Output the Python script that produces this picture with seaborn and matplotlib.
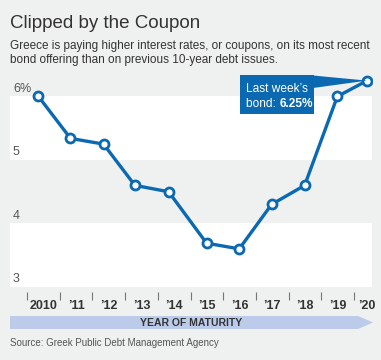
import pandas as pd
import seaborn as sns
import matplotlib.pyplot as plt
from matplotlib.patches import Polygon, Rectangle
from matplotlib.text import Annotation

# Coupon of Greek 10-year bonds by year of maturity (fractional year of maturity)
maturity = [2010.35, 2011.33, 2012.34, 2013.30, 2014.33, 2015.49,
            2016.49, 2017.48, 2018.49, 2019.49, 2020.40]
coupon = [6.00, 5.34, 5.25, 4.60, 4.50, 3.69, 3.60, 4.30, 4.60, 6.00, 6.25]
years = list(range(2010, 2021))
year_labels = ["2010", "\u201911", "\u201912", "\u201913", "\u201914", "\u201915",
               "\u201916", "\u201917", "\u201918", "\u201919", "\u201920"]
y_ticks = [3, 4, 5, 6]
y_labels = ["3", "4", "5", "6%"]

BG = "#eff0f0"
BLUE = "#0b69b2"
DARK = "#333333"
GREY = "#555555"
FONT = ["Liberation Sans", "DejaVu Sans"]

df = pd.DataFrame({"maturity": maturity, "coupon": coupon})

sns.set_theme(style="white")
plt.rcParams["font.family"] = FONT

W, H = 381, 360
fig = plt.figure(figsize=(W / 100, H / 100), dpi=100, facecolor=BG)
ax = fig.add_axes([10 / W, 1 - 292 / H, 362 / W, 222 / H], facecolor=BG)

# alternating bands
ax.axhspan(5, 6, color="white", zorder=0, lw=0)
ax.axhspan(3, 4, color="white", zorder=0, lw=0)

sns.lineplot(data=df, x="maturity", y="coupon", ax=ax, color=BLUE, lw=2.4,
             marker="o", markersize=6.5, markerfacecolor="white",
             markeredgecolor=BLUE, markeredgewidth=2.0, zorder=5)

ax.set_xlim(2009.48, 2020.55)
ax.set_ylim(2.921, 6.417)
for s in ax.spines.values():
    s.set_visible(False)
ax.set_xlabel("")
ax.set_ylabel("")
ax.set_yticks([])

# year boundaries as ticks, labels centred in each year
ax.set_xticks(years)
ax.set_xticklabels([""] * len(years))
ax.tick_params(axis="x", which="major", bottom=True, length=5.5, width=0.8,
               color="#777777", direction="out")
label_pos = [y + 0.5 for y in years[:-1]] + [years[-1] + 0.4]
ax.set_xticks(label_pos, minor=True)
ax.set_xticklabels(year_labels, minor=True, fontsize=9, color=DARK,
                   fontweight="bold")
ax.tick_params(axis="x", which="minor", length=0, pad=6)

# y labels sitting just above each band edge
for v, lab in zip(y_ticks, y_labels):
    ax.text(0.008, v + 0.03, lab, transform=ax.get_yaxis_transform(),
            ha="left", va="bottom", fontsize=9, color=GREY)


def fp(x, y):
    return (x / W, 1 - y / H)


# callout box with pointer to the latest issue
fig.add_artist(Rectangle(fp(240, 114), 74 / W, 39 / H, transform=fig.transFigure,
                         color=BLUE, zorder=6, lw=0))
tip = fig.transFigure.inverted().transform(
    ax.transData.transform((maturity[-1], coupon[-1])))
fig.add_artist(Polygon([fp(313, 75.5), fp(313, 88), tip], closed=True,
                       transform=fig.transFigure, color=BLUE, zorder=6, lw=0))
fig.text(*fp(246.5, 92.5), "Last week\u2019s", color="white", fontsize=8.6,
         ha="left", va="baseline", zorder=7)
t = fig.text(*fp(246.5, 106.5), "bond: ", color="white", fontsize=8.6,
             ha="left", va="baseline", zorder=7)
fig.add_artist(Annotation(f"{coupon[-1]:.2f}%", xy=(1, 0), xycoords=t,
                          va="bottom", ha="left", color="white", fontsize=8.6,
                          fontweight="bold", zorder=7))

# axis title arrow band
fig.add_artist(Polygon([fp(10, 316), fp(358, 316), fp(373, 322.5),
                        fp(358, 329), fp(10, 329)], closed=True,
                       transform=fig.transFigure, color="#bccbe9", lw=0))
fig.text(*fp(191, 322.5), "YEAR OF MATURITY", ha="center", va="center",
         fontsize=7.5, color=DARK, fontweight="bold")

# title, subtitle, source
fig.text(*fp(10, 28.5), "Clipped by the Coupon", fontsize=13.5, color=DARK,
         ha="left", va="baseline")
fig.text(*fp(10, 48.5), "Greece is paying higher interest rates, or coupons, on its most recent",
         fontsize=8.5, color=DARK, ha="left", va="baseline")
fig.text(*fp(10, 63.5), "bond offering than on previous 10-year debt issues.",
         fontsize=8.5, color=DARK, ha="left", va="baseline")
fig.text(*fp(10, 345.5), "Source: Greek Public Debt Management Agency",
         fontsize=7, color=GREY, ha="left", va="baseline")

fig.savefig("out.png", dpi=100, facecolor=BG)
